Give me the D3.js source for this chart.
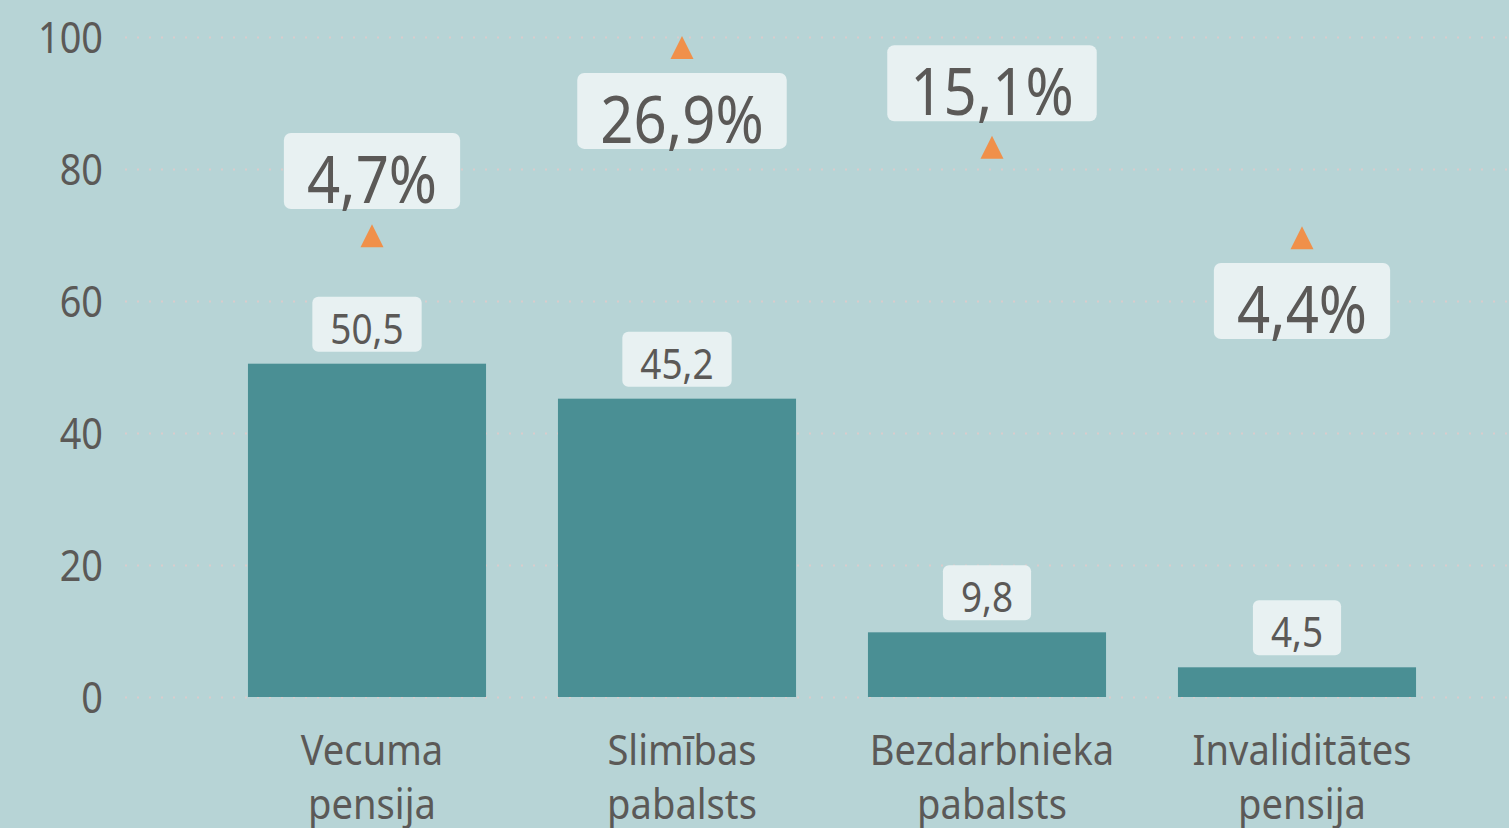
<!DOCTYPE html>
<html>
<head>
<meta charset="utf-8">
<script src="https://cdn.jsdelivr.net/npm/d3@7"></script>
<style>
  html, body { margin: 0; padding: 0; background: #b7d4d6; overflow: hidden; }
  text { font-family: "Noto Sans", "Open Sans", sans-serif; fill: #5b5957; }
</style>
</head>
<body>
<script>
var W = 1509, H = 828;

// data
var categories = ["Vecuma pensija", "Slimības pabalsts", "Bezdarbnieka pabalsts", "Invaliditātes pensija"];
var catLines = [["Vecuma", "pensija"], ["Slimības", "pabalsts"], ["Bezdarbnieka", "pabalsts"], ["Invaliditātes", "pensija"]];
var values = [50.5, 45.2, 9.8, 4.5];
var changes = [4.7, 26.9, 15.1, 4.4];
// vertical level (in axis units) of the orange triangle and of the change box
var markerLevel = [69.9, 98.4, 83.3, 69.6];
var changeLevel = [79.7, 88.8, 93.0, 60.0];
var yTicks = [0, 20, 40, 60, 80, 100];

var sx = 0.88;          // narrow look of the original font
var shift = 5;          // annotations sit a bit right of the bar centre
var fmt = function(v) { return d3.format(".1f")(v).replace(".", ","); };

var svg = d3.select("body").append("svg")
  .attr("width", W).attr("height", H);

svg.append("rect").attr("width", W).attr("height", H).attr("fill", "#b7d4d6");

/*Scales*/
var x = d3.scaleBand()
  .domain(categories)
  .range([212, 1452])
  .paddingInner(0.232)
  .paddingOuter(0.116);

var y = d3.scaleLinear()
  .domain([0, 100])
  .range([697, 37]);

function label(g, tx, ty, str, size, anchor, scx) {
  return g.append("text")
    .attr("transform", "translate(" + tx + "," + ty + ") scale(" + (scx || sx) + ",1)")
    .attr("text-anchor", anchor || "middle")
    .style("font-size", size + "px")
    .text(str);
}

/*Grid + y axis*/
var yAxis = d3.axisLeft(y)
  .tickValues(yTicks)
  .tickSize(0)
  .tickFormat(function(d) { return d; });

var gy = svg.append("g")
  .attr("transform", "translate(125,0)")
  .call(yAxis);
gy.select(".domain").remove();
gy.selectAll(".tick text").remove();
gy.selectAll(".tick").each(function(d) {
  var t = d3.select(this);
  t.append("line")
    .attr("x1", 0).attr("x2", W - 125)
    .attr("stroke", "#dacccc")
    .attr("stroke-width", 2)
    .attr("stroke-dasharray", "2,10");
  label(t, -22, 15, d, 43, "end");
});

/*Bars*/
svg.selectAll("rect.bar")
  .data(values)
  .enter()
  .append("rect")
  .attr("class", "bar")
  .attr("x", function(d, i) { return x(categories[i]); })
  .attr("width", x.bandwidth())
  .attr("y", function(d) { return y(d); })
  .attr("height", function(d) { return y(0) - y(d); })
  .attr("fill", "#4a8f94");

/*Value labels*/
values.forEach(function(v, i) {
  var cx = x(categories[i]) + x.bandwidth() / 2;
  var g = svg.append("g");
  var t = label(g, cx, y(v) - 12 - 27.5 + 19.5, fmt(v), 42);
  var tw = t.node().getComputedTextLength() * sx;
  g.insert("rect", "text")
    .attr("x", cx - tw / 2 - 18)
    .attr("y", y(v) - 12 - 55)
    .attr("width", tw + 36)
    .attr("height", 55)
    .attr("rx", 6)
    .attr("fill", "#e8f1f2");
});

/*Change boxes + triangles*/
changes.forEach(function(c, i) {
  var cx = x(categories[i]) + x.bandwidth() / 2 + shift;
  var cy = y(changeLevel[i]);
  var g = svg.append("g");
  var t = label(g, cx, cy + 32, fmt(c) + "%", 66);
  var tw = t.node().getComputedTextLength() * sx;
  g.insert("rect", "text")
    .attr("x", cx - tw / 2 - 23)
    .attr("y", cy - 38)
    .attr("width", tw + 46)
    .attr("height", 76)
    .attr("rx", 7)
    .attr("fill", "#e8f1f2");

  var my = y(markerLevel[i]);
  svg.append("path")
    .attr("d", "M" + (cx - 11.5) + "," + (my + 11.5) + "L" + cx + "," + (my - 11.5) +
               "L" + (cx + 11.5) + "," + (my + 11.5) + "Z")
    .attr("fill", "#f0904a");
});

/*Category labels*/
catLines.forEach(function(lines, i) {
  var cx = x(categories[i]) + x.bandwidth() / 2 + shift;
  lines.forEach(function(s, k) {
    label(svg, cx, 765 + k * 54, s, 41, "middle", 0.93);
  });
});
</script>
</body>
</html>
